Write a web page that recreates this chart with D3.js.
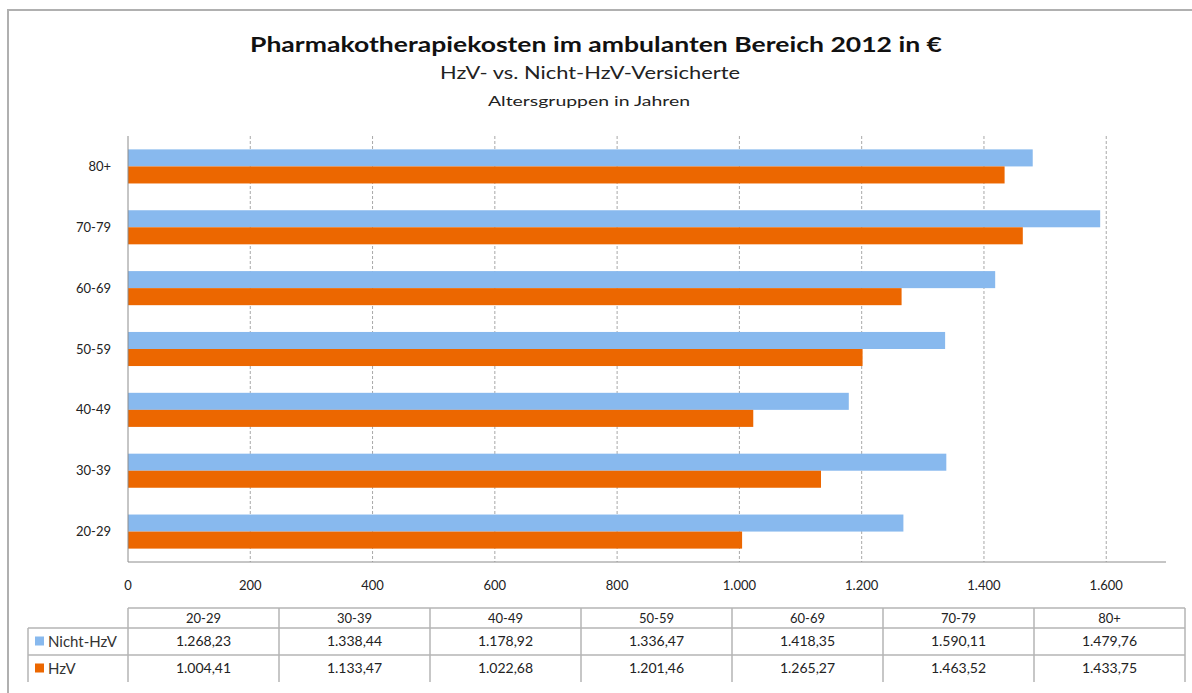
<!DOCTYPE html>
<html>
<head>
<meta charset="utf-8">
<script src="https://cdn.jsdelivr.net/npm/d3@7"></script>
<style>
  body { margin: 0; background: #fff; }
  svg { display: block; }
  text { font-family: Lato, "Open Sans", sans-serif; fill: #222; }
</style>
</head>
<body>
<div id="chart"></div>
<script>
// Data
const ageGroups = ['20-29', '30-39', '40-49', '50-59', '60-69', '70-79', '80+'];
const seriesNames = ['Nicht-HzV', 'HzV'];
const nichtHzV = [1268.23, 1338.44, 1178.92, 1336.47, 1418.35, 1590.11, 1479.76];
const hzV = [1004.41, 1133.47, 1022.68, 1201.46, 1265.27, 1463.52, 1433.75];
const xTicks = [0, 200, 400, 600, 800, 1000, 1200, 1400, 1600];
const colors = ['#88b9ee', '#ec6700'];

const width = 1192, height = 693;
const plot = { left: 128, right: 1166, top: 136, bottom: 562 };

const de = d3.formatLocale({ decimal: ',', thousands: '.', grouping: [3], currency: ['', ' €'] });
const fmtTick = de.format(',d');
const fmtVal = de.format(',.2f');

const svg = d3.select('#chart')
    .append('svg')
    .attr('width', width)
    .attr('height', height);

// Outer frame (runs off the right/bottom of the picture)
svg.append('rect')
    .attr('x', 8).attr('y', 10)
    .attr('width', 1220).attr('height', 720)
    .attr('fill', 'none')
    .attr('stroke', '#b0b0b0')
    .attr('stroke-width', 2);

// Titles - the source is stretched sideways, so fit each to its width
const titles = [
    { text: 'Pharmakotherapiekosten im ambulanten Bereich 2012 in €', x: 596, y: 52, size: 21, len: 692, bold: true },
    { text: 'HzV- vs. Nicht-HzV-Versicherte', x: 590, y: 79, size: 17, len: 300, bold: false },
    { text: 'Altersgruppen in Jahren', x: 589, y: 106, size: 14, len: 202, bold: false }
];
svg.append('g')
    .selectAll('text')
    .data(titles)
    .join('text')
    .attr('x', d => d.x - d.len / 2)
    .attr('y', d => d.y)
    .attr('textLength', d => d.len)
    .attr('lengthAdjust', 'spacingAndGlyphs')
    .style('font-size', d => d.size + 'px')
    .style('font-weight', d => d.bold ? 'bold' : 'normal')
    .style('fill', d => d.bold ? '#111' : '#222')
    .text(d => d.text);

// Scales
const x = d3.scaleLinear()
    .domain([0, 1600])
    .range([plot.left, plot.left + 1600 * 0.6114]);

const y = d3.scaleBand()
    .domain(ageGroups.slice().reverse())
    .range([plot.top, plot.bottom])
    .paddingInner(0.44)
    .paddingOuter(0.22);

const ySub = d3.scaleBand()
    .domain(seriesNames)
    .range([0, y.bandwidth()]);

// Gridlines
svg.append('g')
    .selectAll('line')
    .data(xTicks.filter(t => t > 0))
    .join('line')
    .attr('x1', d => x(d)).attr('x2', d => x(d))
    .attr('y1', plot.top).attr('y2', plot.bottom)
    .attr('stroke', '#a8a8a8')
    .attr('stroke-dasharray', '3,2');

// Bars
const rows = ageGroups.map((g, i) => ({ group: g, values: [nichtHzV[i], hzV[i]] }));
svg.append('g')
    .selectAll('g')
    .data(rows)
    .join('g')
    .attr('transform', d => `translate(0,${y(d.group)})`)
    .selectAll('rect')
    .data(d => d.values.map((v, j) => ({ name: seriesNames[j], value: v, color: colors[j] })))
    .join('rect')
    .attr('x', x(0))
    .attr('y', d => ySub(d.name))
    .attr('width', d => x(d.value) - x(0))
    .attr('height', ySub.bandwidth())
    .attr('fill', d => d.color);

// Axes lines
svg.append('line')
    .attr('x1', plot.left).attr('x2', plot.left)
    .attr('y1', plot.top).attr('y2', plot.bottom)
    .attr('stroke', '#8c8c8c');
svg.append('line')
    .attr('x1', plot.left).attr('x2', plot.right)
    .attr('y1', plot.bottom).attr('y2', plot.bottom)
    .attr('stroke', '#8c8c8c');

// Category labels
svg.append('g')
    .selectAll('text')
    .data(ageGroups)
    .join('text')
    .attr('x', 111)
    .attr('y', d => y(d) + y.bandwidth() / 2)
    .attr('dy', '0.35em')
    .attr('text-anchor', 'end')
    .style('font-size', '13px')
    .text(d => d);

// X tick labels
svg.append('g')
    .selectAll('text')
    .data(xTicks)
    .join('text')
    .attr('x', d => x(d))
    .attr('y', 585)
    .attr('dy', '0.35em')
    .attr('text-anchor', 'middle')
    .style('font-size', '13px')
    .text(d => fmtTick(d));

// Data table
const table = { left: 28, colLeft: 128, right: 1185, rowY: [608, 628, 655, 682] };
const col = d3.scaleBand()
    .domain(ageGroups)
    .range([table.colLeft, table.right]);
const tg = svg.append('g').attr('stroke', '#b4b4b4').attr('stroke-width', 1.5);

tg.append('line')
    .attr('x1', table.colLeft).attr('x2', table.right)
    .attr('y1', table.rowY[0]).attr('y2', table.rowY[0]);
[1, 2].forEach(r => tg.append('line')
    .attr('x1', table.left).attr('x2', table.right)
    .attr('y1', table.rowY[r]).attr('y2', table.rowY[r]));
tg.append('line')
    .attr('x1', table.left).attr('x2', table.left)
    .attr('y1', table.rowY[1]).attr('y2', table.rowY[3]);
tg.selectAll('line.col')
    .data(ageGroups.map(g => col(g)).concat([table.right]))
    .join('line')
    .attr('class', 'col')
    .attr('x1', d => d).attr('x2', d => d)
    .attr('y1', table.rowY[0]).attr('y2', table.rowY[3]);

// Header cells
svg.append('g')
    .selectAll('text')
    .data(ageGroups)
    .join('text')
    .attr('x', d => col(d) + col.bandwidth() / 2)
    .attr('y', (table.rowY[0] + table.rowY[1]) / 2)
    .attr('dy', '0.35em')
    .attr('text-anchor', 'middle')
    .style('font-size', '13px')
    .text(d => d);

// Value rows
[nichtHzV, hzV].forEach((vals, r) => {
    const cy = (table.rowY[r + 1] + table.rowY[r + 2]) / 2;
    const g = svg.append('g');
    g.append('rect')
        .attr('x', 35).attr('y', cy - 5)
        .attr('width', 9).attr('height', 9)
        .attr('fill', colors[r]);
    g.append('text')
        .attr('x', 48).attr('y', cy)
        .attr('dy', '0.35em')
        .style('font-size', '15px')
        .style('fill', '#333')
        .text(seriesNames[r]);
    g.selectAll('text.val')
        .data(vals)
        .join('text')
        .attr('class', 'val')
        .attr('x', (d, i) => col(ageGroups[i]) + col.bandwidth() / 2)
        .attr('y', cy)
        .attr('dy', '0.35em')
        .attr('text-anchor', 'middle')
        .style('font-size', '14px')
        .text(d => fmtVal(d));
});
</script>
</body>
</html>
